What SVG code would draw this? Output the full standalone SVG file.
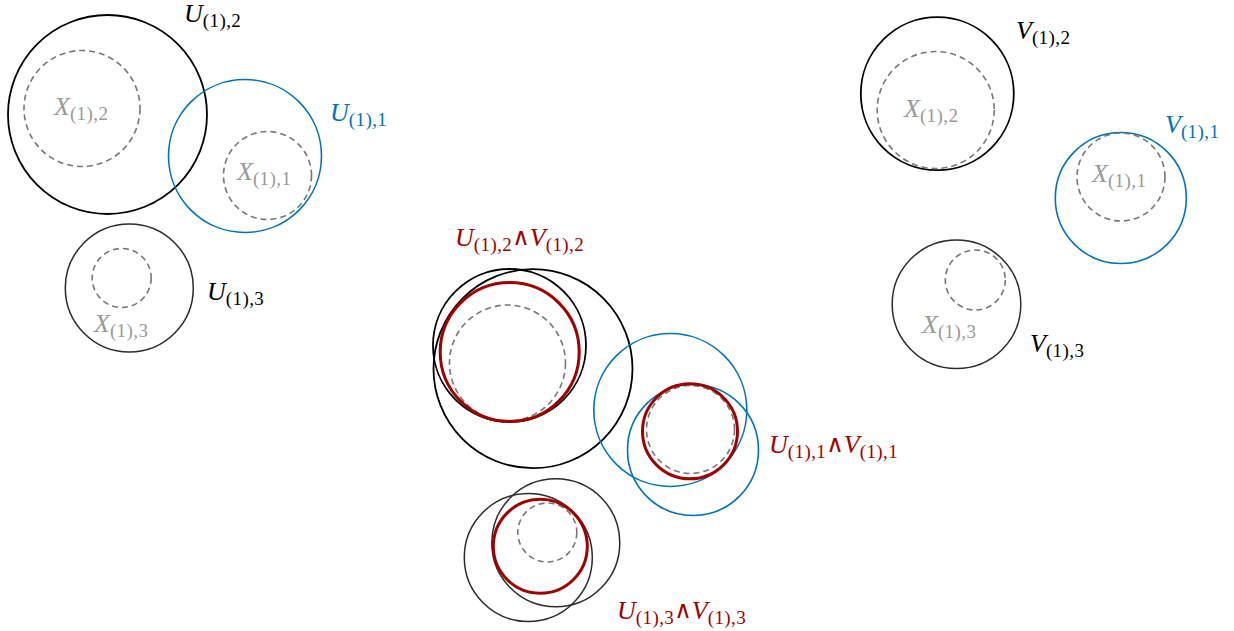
<svg xmlns="http://www.w3.org/2000/svg" width="1234" height="631" viewBox="0 0 1234 631">
<style>
.bk{fill:none;stroke:#000;stroke-width:1.8}
.dk{fill:none;stroke:#2b2b2b;stroke-width:1.5}
.bl{fill:none;stroke:#0072BD;stroke-width:1.6}
.rd{fill:none;stroke:#A00000;stroke-width:3}
.ds{fill:none;stroke:#777;stroke-width:1.6;stroke-dasharray:6 4}
.t{font-family:'Liberation Serif','Times New Roman',serif;font-size:26px}
.i{font-style:italic}
.s{font-size:19px;font-style:normal;letter-spacing:0.4px}
.w{font-family:'Liberation Serif','DejaVu Serif',serif;font-size:24px;font-style:normal}
.tk{fill:#000}
.tb{fill:#0072BD}
.tr{fill:#A00000}
.tg{fill:#999}
</style>
<rect width="1234" height="631" fill="#fff"/>
<g id="left">
  <g id="U2"><circle class="bk" cx="107.5" cy="114.5" r="99.5"/><circle class="ds" cx="82" cy="108.5" r="58"/>
    <text x="54" y="115" class="t tg"><tspan class="i">X</tspan><tspan class="s" dy="5">(1),2</tspan></text>
    <text x="184" y="22" class="t tk"><tspan class="i">U</tspan><tspan class="s" dy="5">(1),2</tspan></text></g>
  <g id="U1"><circle class="bl" cx="245" cy="156" r="76.5"/><circle class="ds" cx="267.5" cy="175.5" r="44"/>
    <text x="237" y="180" class="t tg"><tspan class="i">X</tspan><tspan class="s" dy="5">(1),1</tspan></text>
    <text x="330" y="121" class="t tb"><tspan class="i">U</tspan><tspan class="s" dy="5">(1),1</tspan></text></g>
  <g id="U3"><circle class="dk" cx="129.3" cy="288" r="64"/><circle class="ds" cx="121.7" cy="278" r="29.5"/>
    <text x="94" y="332" class="t tg"><tspan class="i">X</tspan><tspan class="s" dy="5">(1),3</tspan></text>
    <text x="207" y="300" class="t tk"><tspan class="i">U</tspan><tspan class="s" dy="5">(1),3</tspan></text></g>
</g>
<g id="middle">
  <g id="I2"><circle class="bk" cx="533" cy="368.7" r="99.5"/><circle class="bk" cx="509.5" cy="345.5" r="76.5"/><circle class="ds" cx="507.5" cy="363" r="58"/><circle class="rd" cx="509.7" cy="352" r="69.5"/>
    <text x="455" y="246" class="t tr"><tspan class="i">U</tspan><tspan class="s" dy="5">(1),2</tspan><tspan class="w" dy="-6">∧</tspan><tspan class="i" dy="1">V</tspan><tspan class="s" dy="5">(1),2</tspan></text></g>
  <g id="I1"><circle class="bl" cx="670.3" cy="410" r="76.5"/><circle class="bl" cx="693" cy="450" r="65.5"/><circle class="ds" cx="690.5" cy="429.5" r="44"/><circle class="rd" cx="690" cy="431.3" r="47.5"/>
    <text x="769" y="453" class="t tr"><tspan class="i">U</tspan><tspan class="s" dy="5">(1),1</tspan><tspan class="w" dy="-6">∧</tspan><tspan class="i" dy="1">V</tspan><tspan class="s" dy="5">(1),1</tspan></text></g>
  <g id="I3"><circle class="dk" cx="528.3" cy="557.5" r="64"/><circle class="dk" cx="555.8" cy="542.8" r="64"/><circle class="ds" cx="547.3" cy="532.5" r="29.5"/><circle class="rd" cx="540.3" cy="546.3" r="47"/>
    <text x="617" y="619" class="t tr"><tspan class="i">U</tspan><tspan class="s" dy="5">(1),3</tspan><tspan class="w" dy="-6">∧</tspan><tspan class="i" dy="1">V</tspan><tspan class="s" dy="5">(1),3</tspan></text></g>
</g>
<g id="right">
  <g id="V2"><circle class="bk" cx="937.3" cy="93.7" r="76.5"/><circle class="ds" cx="935.7" cy="110" r="58.5"/>
    <text x="904" y="117" class="t tg"><tspan class="i">X</tspan><tspan class="s" dy="5">(1),2</tspan></text>
    <text x="1016" y="39" class="t tk"><tspan class="i">V</tspan><tspan class="s" dy="5">(1),2</tspan></text></g>
  <g id="V1"><circle class="bl" cx="1120.8" cy="198" r="65.5"/><circle class="ds" cx="1121" cy="177" r="44"/>
    <text x="1092" y="182" class="t tg"><tspan class="i">X</tspan><tspan class="s" dy="5">(1),1</tspan></text>
    <text x="1165" y="133" class="t tb"><tspan class="i">V</tspan><tspan class="s" dy="5">(1),1</tspan></text></g>
  <g id="V3"><circle class="dk" cx="956.5" cy="304.3" r="64.3"/><circle class="ds" cx="975.3" cy="280" r="30"/>
    <text x="922" y="333" class="t tg"><tspan class="i">X</tspan><tspan class="s" dy="5">(1),3</tspan></text>
    <text x="1030" y="352" class="t tk"><tspan class="i">V</tspan><tspan class="s" dy="5">(1),3</tspan></text></g>
</g>
</svg>
